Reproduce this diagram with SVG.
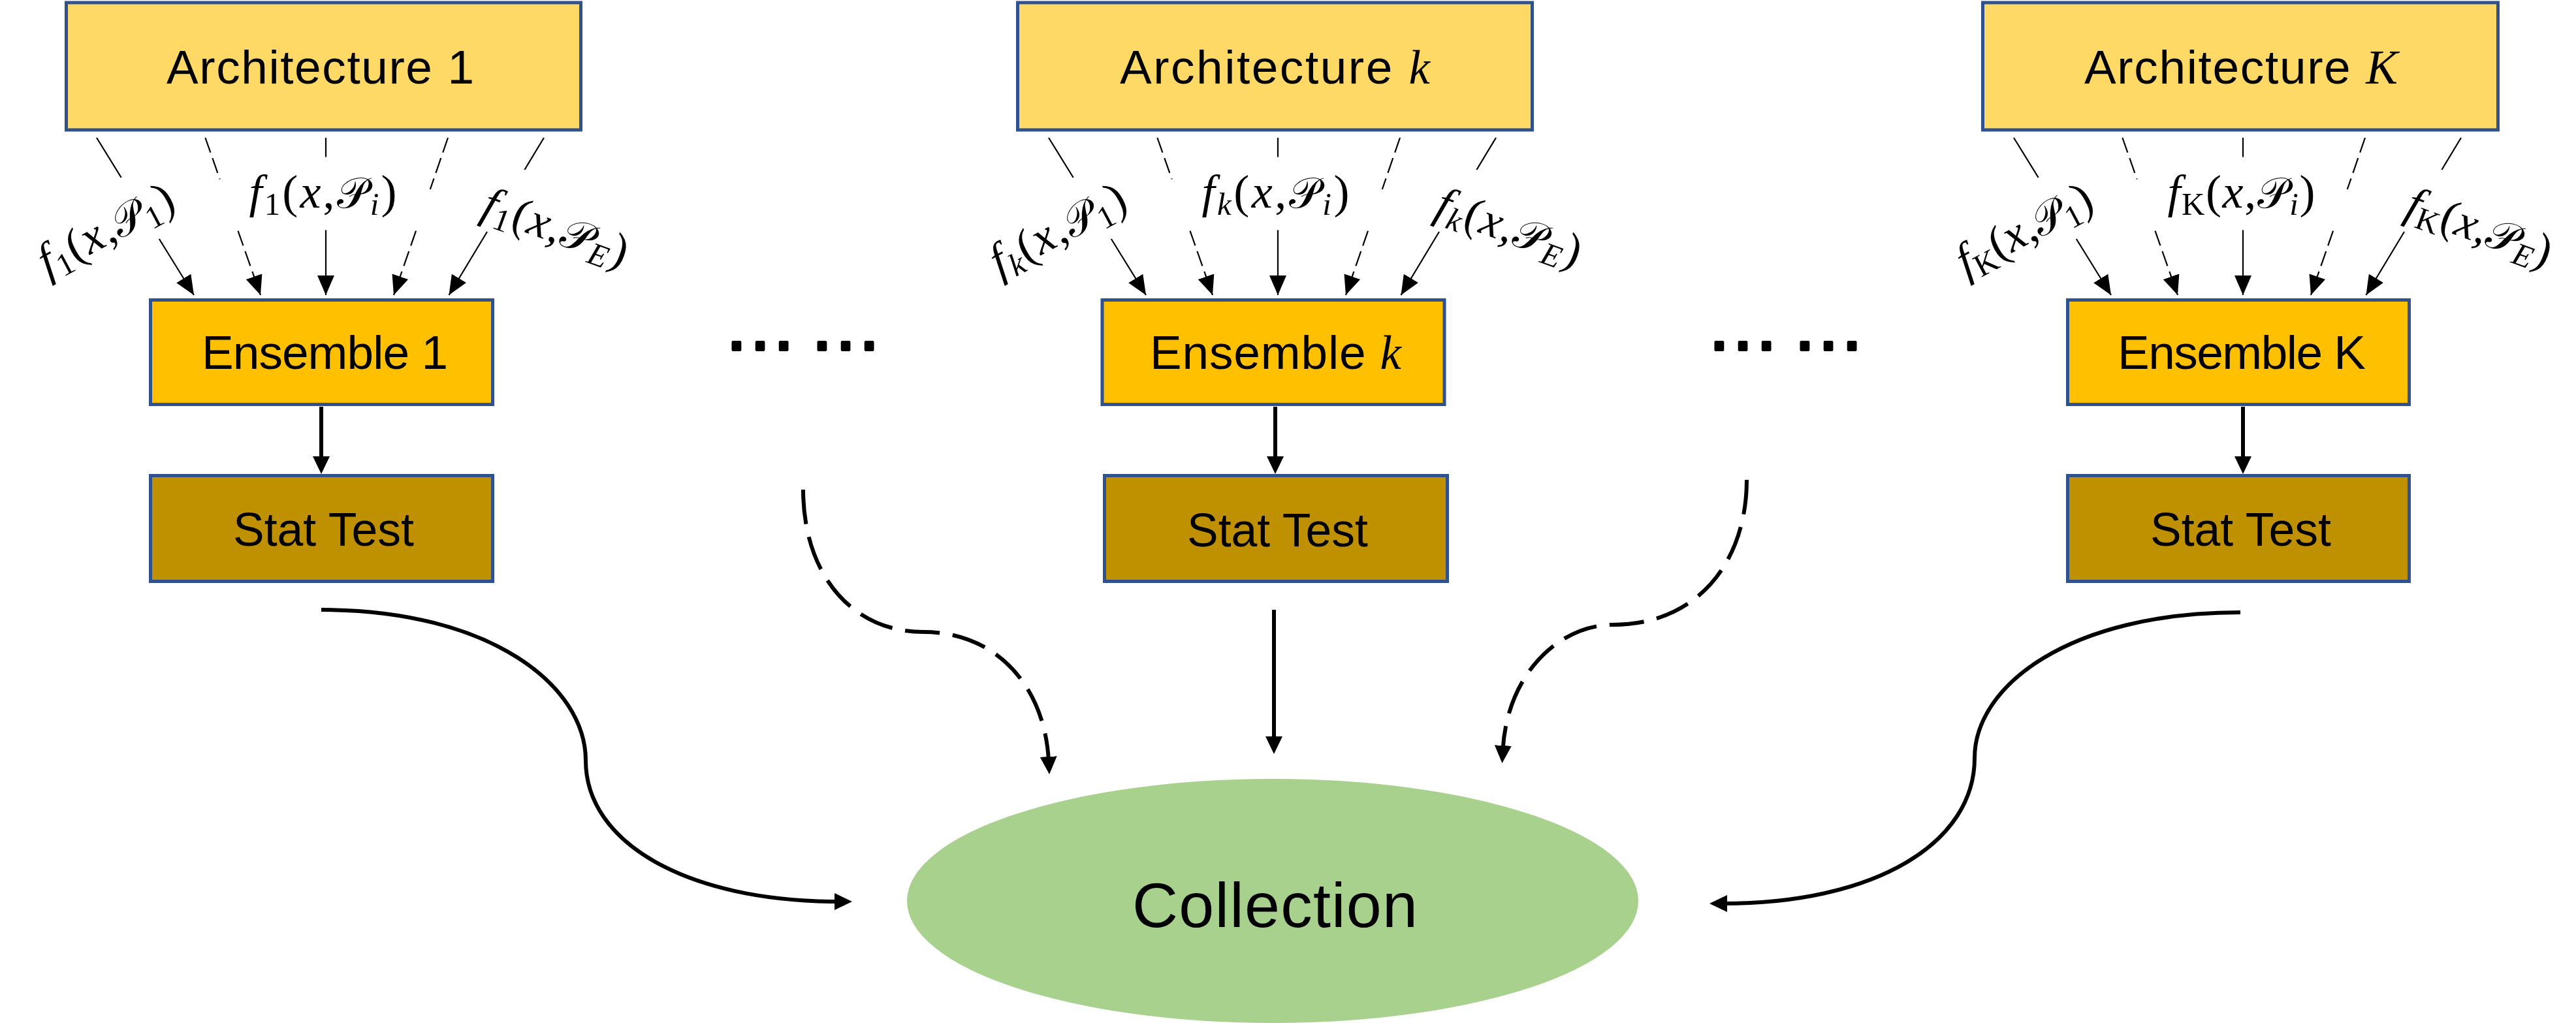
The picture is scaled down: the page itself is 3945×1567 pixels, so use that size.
<svg xmlns="http://www.w3.org/2000/svg" width="3945" height="1567" viewBox="0 0 3945 1567">
<style>
.arch{fill:#FFD966;stroke:#2F528F;stroke-width:5}
.ens{fill:#FFC000;stroke:#2F528F;stroke-width:5}
.stat{fill:#BF9000;stroke:#2F528F;stroke-width:5}
.coll{fill:#A9D18E}
.t{font-family:"Liberation Sans",Arial,sans-serif;font-size:73px;fill:#000;text-anchor:middle}
.big{font-size:97px}
.mi{font-family:"Liberation Serif","Times New Roman",serif;font-style:italic}
.m{font-family:"Liberation Serif","Times New Roman",serif;font-size:72px;fill:#000;text-anchor:middle}
.sub{font-size:49px}
.sp{font-family:"DejaVu Serif","DejaVu Sans","Noto Sans",serif;font-style:normal;font-size:66px}
.thin{stroke:#000;stroke-width:2.2;fill:none}
.dsh{stroke-dasharray:24 9}
.thick{stroke:#000;stroke-width:6;fill:none}
.ldsh{stroke-dasharray:53 20}
.dots{font-family:"Liberation Sans",Arial,sans-serif;font-size:114px;fill:#000;stroke:#000;stroke-width:4;stroke-linejoin:round;text-anchor:middle}
</style>
<defs>
<marker id="ah" markerUnits="userSpaceOnUse" viewBox="0 0 30 26" markerWidth="30" markerHeight="26" refX="30" refY="13" orient="auto"><path d="M0,0 L30,13 L0,26 z" fill="#000"/></marker>
<marker id="ahb" markerUnits="userSpaceOnUse" viewBox="0 0 27 26" markerWidth="27" markerHeight="26" refX="7" refY="13" orient="auto"><path d="M0,0 L27,13 L0,26 z" fill="#000"/></marker>
</defs>
<rect width="3945" height="1567" fill="#fff"/>

<g id="connectors">
  <!-- column 1 (c=499) -->
  <line class="thin" x1="148" y1="211" x2="185.7" y2="272"/>
  <line class="thin" x1="243.8" y1="366" x2="297" y2="452" marker-end="url(#ah)"/>
  <line class="thin dsh" x1="314.4" y1="211" x2="336.7" y2="274.5"/>
  <line class="thin dsh" x1="364.5" y1="353.6" x2="399" y2="452" marker-end="url(#ah)"/>
  <line class="thin" x1="499" y1="211" x2="499" y2="240.5"/>
  <line class="thin" x1="499" y1="352.4" x2="499" y2="452" marker-end="url(#ah)"/>
  <line class="thin dsh" x1="686" y1="211" x2="658.8" y2="290"/>
  <line class="thin dsh" x1="637" y1="353.6" x2="603" y2="452" marker-end="url(#ah)"/>
  <line class="thin" x1="833" y1="211" x2="803.4" y2="260"/>
  <line class="thin" x1="746" y1="355" x2="687.5" y2="452" marker-end="url(#ah)"/>
  <!-- column k (c=1957) -->
  <line class="thin" x1="1606" y1="211" x2="1643.7" y2="272"/>
  <line class="thin" x1="1701.8" y1="366" x2="1755" y2="452" marker-end="url(#ah)"/>
  <line class="thin dsh" x1="1772.4" y1="211" x2="1794.7" y2="274.5"/>
  <line class="thin dsh" x1="1822.5" y1="353.6" x2="1857" y2="452" marker-end="url(#ah)"/>
  <line class="thin" x1="1957" y1="211" x2="1957" y2="240.5"/>
  <line class="thin" x1="1957" y1="352.4" x2="1957" y2="452" marker-end="url(#ah)"/>
  <line class="thin dsh" x1="2144" y1="211" x2="2116.8" y2="290"/>
  <line class="thin dsh" x1="2095" y1="353.6" x2="2061" y2="452" marker-end="url(#ah)"/>
  <line class="thin" x1="2291" y1="211" x2="2261.4" y2="260"/>
  <line class="thin" x1="2204" y1="355" x2="2145.5" y2="452" marker-end="url(#ah)"/>
  <!-- column K (c=3435) -->
  <line class="thin" x1="3084" y1="211" x2="3121.7" y2="272"/>
  <line class="thin" x1="3179.8" y1="366" x2="3233" y2="452" marker-end="url(#ah)"/>
  <line class="thin dsh" x1="3250.4" y1="211" x2="3272.7" y2="274.5"/>
  <line class="thin dsh" x1="3300.5" y1="353.6" x2="3335" y2="452" marker-end="url(#ah)"/>
  <line class="thin" x1="3435" y1="211" x2="3435" y2="240.5"/>
  <line class="thin" x1="3435" y1="352.4" x2="3435" y2="452" marker-end="url(#ah)"/>
  <line class="thin dsh" x1="3622" y1="211" x2="3594.8" y2="290"/>
  <line class="thin dsh" x1="3573" y1="353.6" x2="3539" y2="452" marker-end="url(#ah)"/>
  <line class="thin" x1="3769" y1="211" x2="3739.4" y2="260"/>
  <line class="thin" x1="3682" y1="355" x2="3623.5" y2="452" marker-end="url(#ah)"/>

  <!-- ensemble to stat test -->
  <line class="thick" x1="492" y1="623" x2="492" y2="706" marker-end="url(#ahb)"/>
  <line class="thick" x1="1953" y1="623" x2="1953" y2="706" marker-end="url(#ahb)"/>
  <line class="thick" x1="3435" y1="623" x2="3435" y2="706" marker-end="url(#ahb)"/>

  <!-- to collection -->
  <path class="thick" d="M492,934 C750,934 897,1050 897,1165 C897,1290 1050,1381 1285,1381" marker-end="url(#ahb)"/>
  <path class="thick ldsh" d="M1230,750 C1230,880 1305,968 1414,968 C1525,968 1600,1050 1606,1166" marker-end="url(#ahb)"/>
  <line class="thick" x1="1951" y1="934" x2="1951" y2="1135" marker-end="url(#ahb)"/>
  <path class="thick ldsh" d="M2675,735 C2675,860 2600,957 2470,957 C2390,957 2308,1030 2301.5,1149" marker-end="url(#ahb)"/>
  <path class="thick" d="M3431,938 C3170,938 3024,1050 3024,1161 C3024,1290 2875,1384 2638,1384" marker-end="url(#ahb)"/>
</g>

<g id="edge-labels">
  <!-- column 1 -->
  <text class="m" transform="translate(172.6,371.8) rotate(-28)" textLength="226" lengthAdjust="spacing"><tspan class="mi">f</tspan><tspan class="sub" dy="11">1</tspan><tspan dy="-11">(</tspan><tspan class="mi">x</tspan>,<tspan class="sp">𝒫</tspan><tspan class="sub" dy="11">1</tspan><tspan dy="-11">)</tspan></text>
  <text class="m" x="494.5" y="318" textLength="226" lengthAdjust="spacing"><tspan class="mi">f</tspan><tspan class="sub" dy="11">1</tspan><tspan dy="-11">(</tspan><tspan class="mi">x</tspan>,<tspan class="sp">𝒫</tspan><tspan class="sub mi" dy="11">i</tspan><tspan dy="-11">)</tspan></text>
  <text class="m" transform="translate(843.6,370.3) rotate(20)" textLength="232" lengthAdjust="spacing"><tspan class="mi">f</tspan><tspan class="sub" dy="11">1</tspan><tspan dy="-11">(</tspan><tspan class="mi">x</tspan>,<tspan class="sp">𝒫</tspan><tspan class="sub mi" dy="11">E</tspan><tspan dy="-11">)</tspan></text>
  <!-- column k -->
  <text class="m" transform="translate(1630.6,371.8) rotate(-28)" textLength="226" lengthAdjust="spacing"><tspan class="mi">f</tspan><tspan class="sub mi" dy="11">k</tspan><tspan dy="-11">(</tspan><tspan class="mi">x</tspan>,<tspan class="sp">𝒫</tspan><tspan class="sub" dy="11">1</tspan><tspan dy="-11">)</tspan></text>
  <text class="m" x="1953.5" y="318" textLength="226" lengthAdjust="spacing"><tspan class="mi">f</tspan><tspan class="sub mi" dy="11">k</tspan><tspan dy="-11">(</tspan><tspan class="mi">x</tspan>,<tspan class="sp">𝒫</tspan><tspan class="sub mi" dy="11">i</tspan><tspan dy="-11">)</tspan></text>
  <text class="m" transform="translate(2303.6,370.3) rotate(20)" textLength="232" lengthAdjust="spacing"><tspan class="mi">f</tspan><tspan class="sub mi" dy="11">k</tspan><tspan dy="-11">(</tspan><tspan class="mi">x</tspan>,<tspan class="sp">𝒫</tspan><tspan class="sub mi" dy="11">E</tspan><tspan dy="-11">)</tspan></text>
  <!-- column K -->
  <text class="m" transform="translate(3110.6,371.8) rotate(-28)" textLength="226" lengthAdjust="spacing"><tspan class="mi">f</tspan><tspan class="sub" dy="11">K</tspan><tspan dy="-11">(</tspan><tspan class="mi">x</tspan>,<tspan class="sp">𝒫</tspan><tspan class="sub" dy="11">1</tspan><tspan dy="-11">)</tspan></text>
  <text class="m" x="3432.5" y="318" textLength="226" lengthAdjust="spacing"><tspan class="mi">f</tspan><tspan class="sub" dy="11">K</tspan><tspan dy="-11">(</tspan><tspan class="mi">x</tspan>,<tspan class="sp">𝒫</tspan><tspan class="sub mi" dy="11">i</tspan><tspan dy="-11">)</tspan></text>
  <text class="m" transform="translate(3789.6,370.3) rotate(20)" textLength="232" lengthAdjust="spacing"><tspan class="mi">f</tspan><tspan class="sub" dy="11">K</tspan><tspan dy="-11">(</tspan><tspan class="mi">x</tspan>,<tspan class="sp">𝒫</tspan><tspan class="sub mi" dy="11">E</tspan><tspan dy="-11">)</tspan></text>
</g>

<g id="arch-1"><rect class="arch" x="101.5" y="4" width="788" height="195"/><text class="t" x="490.5" y="128" textLength="471" lengthAdjust="spacing">Architecture 1</text></g>
<g id="arch-k"><rect class="arch" x="1558.5" y="4" width="788" height="195"/><text class="t" x="1952.5" y="128" textLength="475" lengthAdjust="spacing">Architecture <tspan class="mi">k</tspan></text></g>
<g id="arch-K"><rect class="arch" x="3036.5" y="4" width="789" height="195"/><text class="t" x="3432" y="128" textLength="480" lengthAdjust="spacing">Architecture <tspan class="mi">K</tspan></text></g>

<g id="ens-1"><rect class="ens" x="230.5" y="459.5" width="524" height="160"/><text class="t" x="497.5" y="565" textLength="377" lengthAdjust="spacing">Ensemble 1</text></g>
<g id="ens-k"><rect class="ens" x="1688" y="459.5" width="524" height="160"/><text class="t" x="1953.5" y="565" textLength="385" lengthAdjust="spacing">Ensemble <tspan class="mi">k</tspan></text></g>
<g id="ens-K"><rect class="ens" x="3166.5" y="459.5" width="523" height="160"/><text class="t" x="3433" y="565" textLength="380" lengthAdjust="spacing">Ensemble K</text></g>

<g id="stat-1"><rect class="stat" x="230.5" y="728.5" width="524" height="162"/><text class="t" x="495.5" y="836" textLength="277" lengthAdjust="spacingAndGlyphs">Stat Test</text></g>
<g id="stat-k"><rect class="stat" x="1691.5" y="728.5" width="525" height="162"/><text class="t" x="1956.5" y="837" textLength="277" lengthAdjust="spacingAndGlyphs">Stat Test</text></g>
<g id="stat-K"><rect class="stat" x="3166.5" y="728.5" width="523" height="162"/><text class="t" x="3431.5" y="836" textLength="277" lengthAdjust="spacingAndGlyphs">Stat Test</text></g>

<g id="dots-left"><text class="dots" x="1164 1295" y="536">……</text></g>
<g id="dots-right"><text class="dots" x="2669 2800" y="536">……</text></g>

<g id="collection"><ellipse class="coll" cx="1949" cy="1380" rx="560" ry="187"/><text class="t big" x="1952.5" y="1420" textLength="437" lengthAdjust="spacing">Collection</text></g>
</svg>
